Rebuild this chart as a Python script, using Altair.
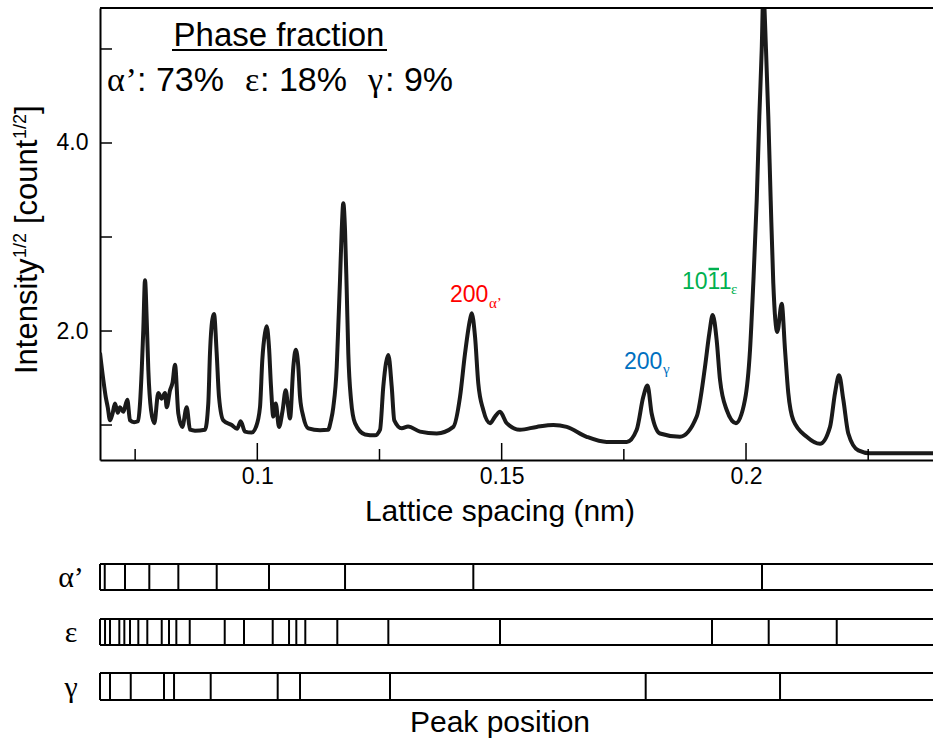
import altair as alt
import pandas as pd

# ---------------- data ----------------
d_nm = [0.06781, 0.06849, 0.06898, 0.06939, 0.06986, 0.07037, 0.07088, 0.07144, 0.07191, 0.07258,
        0.07340, 0.07395, 0.07477, 0.07559, 0.07600, 0.07635, 0.07667, 0.07702, 0.07737, 0.07770,
        0.07825, 0.07892, 0.07974, 0.08044, 0.08111, 0.08146, 0.08214, 0.08265, 0.08316, 0.08384,
        0.08465, 0.08555, 0.08623, 0.08725, 0.08930, 0.08997, 0.09032, 0.09079, 0.09114, 0.09169,
        0.09216, 0.09304, 0.09476, 0.09585, 0.09660, 0.09748, 0.09885, 0.09973, 0.10055, 0.10102,
        0.10158, 0.10192, 0.10239, 0.10280, 0.10327, 0.10377, 0.10444, 0.10516, 0.10581, 0.10628,
        0.10669, 0.10737, 0.10786, 0.10839, 0.10874, 0.10941, 0.11044, 0.11283, 0.11447, 0.11508,
        0.11555, 0.11625, 0.11657, 0.11692, 0.11727, 0.11760, 0.11795, 0.11829, 0.11862, 0.11917,
        0.11999, 0.12204, 0.12408, 0.12511, 0.12578, 0.12633, 0.12681, 0.12750, 0.12803, 0.12955,
        0.13084, 0.13329, 0.13671, 0.14011, 0.14148, 0.14250, 0.14352, 0.14387, 0.14455, 0.14522,
        0.14624, 0.14762, 0.14864, 0.14966, 0.15103, 0.15375, 0.15717, 0.16057, 0.16331, 0.16740,
        0.17149, 0.17559, 0.17763, 0.17898, 0.17984, 0.18070, 0.18240, 0.18649, 0.18991, 0.19161,
        0.19249, 0.19318, 0.19400, 0.19468, 0.19605, 0.19795, 0.19979, 0.20082, 0.20149, 0.20219,
        0.20272, 0.20321, 0.20354, 0.20409, 0.20456, 0.20505, 0.20558, 0.20640, 0.20730, 0.20798,
        0.20865, 0.20968, 0.21242, 0.21514, 0.21719, 0.21821, 0.21903, 0.21991, 0.22093, 0.22298,
        0.22537, 0.23151, 0.23826]
intensity = [1.77, 1.48, 1.30, 1.19, 1.05, 1.12, 1.23, 1.13, 1.19, 1.14,
             1.27, 1.05, 1.03, 1.04, 1.23, 1.585, 2.01, 2.54, 2.12, 1.585,
             1.16, 1.02, 1.34, 1.28, 1.34, 1.19, 1.37, 1.45, 1.64, 1.12,
             0.98, 1.19, 0.95, 0.94, 0.95, 1.23, 1.77, 2.12, 2.18, 1.76,
             1.30, 1.05, 1.00, 0.96, 1.04, 0.93, 0.92, 0.98, 1.19, 1.69,
             1.98, 2.05, 1.83, 1.41, 1.09, 1.23, 0.98, 1.15, 1.37, 1.20,
             1.07, 1.62, 1.80, 1.62, 1.30, 1.09, 0.965, 0.945, 0.95, 1.05,
             1.19, 1.62, 2.05, 2.54, 3.07, 3.36, 3.07, 2.44, 1.76, 1.27,
             1.02, 0.90, 0.89, 0.95, 1.41, 1.66, 1.745, 1.41, 1.05, 0.965,
             0.985, 0.93, 0.91, 0.98, 1.30, 1.76, 2.12, 2.19, 1.94, 1.44,
             1.16, 1.02, 1.09, 1.14, 1.02, 0.95, 0.98, 1.00, 0.98, 0.875,
             0.82, 0.82, 0.95, 1.30, 1.42, 1.12, 0.91, 0.875, 1.09, 1.62,
             1.975, 2.17, 1.90, 1.48, 1.16, 1.02, 1.27, 1.80, 2.51, 3.39,
             4.28, 4.99, 5.60, 4.99, 4.28, 3.39, 2.51, 1.99, 2.29, 1.80,
             1.34, 1.05, 0.875, 0.80, 0.98, 1.34, 1.53, 1.27, 0.91, 0.73,
             0.70, 0.70, 0.70]

alpha_peaks = [0.06878, 0.07293, 0.07790, 0.08384, 0.09169, 0.10239, 0.11795, 0.14420, 0.20327]
eps_peaks = [0.06884, 0.06986, 0.07176, 0.07279, 0.07395, 0.07565, 0.07749, 0.08044, 0.08193,
             0.08343, 0.08617, 0.09333, 0.09728, 0.10315, 0.10649, 0.10798, 0.10982, 0.11637,
             0.12681, 0.14966, 0.19304, 0.20464, 0.21856]
gamma_peaks = [0.06986, 0.07410, 0.08091, 0.08296, 0.09046, 0.10417, 0.10874, 0.12715,
               0.17947, 0.20696]

x_major = [0.1, 0.15, 0.2]
x_minor = [0.075, 0.125, 0.175, 0.225]
y_tick_vals = [1, 2, 3, 4, 5]
y_label_vals = [2.0, 4.0]
x_domain = [0.06781, 0.23826]
y_domain = [0.628, 5.436]

# ---------------- layout helpers ----------------
W, H = 833, 452
X0, Y0 = 100, 8
SANS = "Liberation Sans"
SERIF = "Liberation Serif"


def px(x):
    return x - X0


def py(y):
    return y - Y0


one = pd.DataFrame({"k": [0]})


def txt(s, x, y, size, font=SANS, color="black", align="left", baseline="alphabetic", angle=0):
    kw = dict(text=s, font=font, fontSize=size, color=color, align=align, baseline=baseline)
    if angle:
        kw["angle"] = angle
    return alt.Chart(one).mark_text(**kw).encode(x=alt.value(px(x)), y=alt.value(py(y)))


def hline(x1, x2, y, color="black", w=2):
    return alt.Chart(one).mark_rule(color=color, strokeWidth=w).encode(
        x=alt.value(px(x1)), x2=alt.value(px(x2)), y=alt.value(py(y)))


def vline(x, y1, y2, color="black", w=2):
    return alt.Chart(one).mark_rule(color=color, strokeWidth=w).encode(
        x=alt.value(px(x)), y=alt.value(py(y1)), y2=alt.value(py(y2)))


xs = alt.Scale(domain=x_domain, nice=False, zero=False)
ys = alt.Scale(domain=y_domain, nice=False, zero=False)

x_axis = alt.Axis(values=x_major, format="~g", ticks=False, grid=False, domainColor="black",
                  domainWidth=2, labelFont=SANS, labelFontSize=23, labelColor="black",
                  labelPadding=5, title=None)
y_axis = alt.Axis(values=y_label_vals, format=".1f", ticks=False, grid=False, domainColor="black",
                  domainWidth=2, labelFont=SANS, labelFontSize=23, labelColor="black",
                  labelPadding=12, title=None)

spec = pd.DataFrame({"d": d_nm, "I": intensity})

line = alt.Chart(spec).mark_line(
    clip=True, interpolate="monotone", strokeWidth=4, color="#1a1a1a"
).encode(
    x=alt.X("d:Q", scale=xs, axis=x_axis),
    y=alt.Y("I:Q", scale=ys, axis=y_axis),
)

xmaj = alt.Chart(pd.DataFrame({"v": x_major})).mark_rule(color="black", strokeWidth=1.5).encode(
    x=alt.X("v:Q", scale=xs, axis=x_axis), y=alt.value(H), y2=alt.value(H - 17))
xmin = alt.Chart(pd.DataFrame({"v": x_minor})).mark_rule(color="black", strokeWidth=1.5).encode(
    x=alt.X("v:Q", scale=xs, axis=x_axis), y=alt.value(H), y2=alt.value(H - 11))
ytk = alt.Chart(pd.DataFrame({"v": y_tick_vals})).mark_rule(color="black", strokeWidth=1.5).encode(
    y=alt.Y("v:Q", scale=ys, axis=y_axis), x=alt.value(0), x2=alt.value(12))

layers = [line, xmaj, xmin, ytk, hline(100, 933, 8)]

# peak-position strips
strips = [(alpha_peaks, 564, 590, "\u03b1\u2019"), (eps_peaks, 619, 645, "\u03b5"),
          (gamma_peaks, 673, 700, "\u03b3")]
for peaks, top, bot, lab in strips:
    layers.append(alt.Chart(pd.DataFrame({"v": peaks})).mark_rule(color="black", strokeWidth=2).encode(
        x=alt.X("v:Q", scale=xs, axis=x_axis), y=alt.value(py(top)), y2=alt.value(py(bot))))
    layers.append(hline(100, 933, top))
    layers.append(hline(100, 933, bot))
    layers.append(vline(100, top, bot))
    layers.append(txt(lab, 71, (top + bot) / 2 + 1, 30, font=SERIF, align="center", baseline="middle"))

# titles
layers.append(txt("Lattice spacing (nm)", 500, 521, 30, align="center"))
layers.append(txt("Peak position", 500, 732, 30, align="center"))

# rotated y title with superscripts
layers += [
    txt("Intensity", 37, 374, 31, angle=270),
    txt("1/2", 26, 258, 18, angle=270),
    txt("[count", 37, 224, 31, angle=270),
    txt("1/2", 26, 139, 18, angle=270),
    txt("]", 37, 114, 31, angle=270),
]

# phase fraction box
layers += [
    txt("Phase fraction", 279, 46, 33, align="center"),
    hline(172, 387, 50, w=2),
    txt("\u03b1", 107, 91, 34, font=SERIF),
    txt("\u2019", 125.5, 91, 34, font=SERIF),
    txt(": 73%", 137, 91, 34),
    txt("\u03b5", 245, 91, 34, font=SERIF),
    txt(": 18%", 260, 91, 34),
    txt("\u03b3", 368, 91, 34, font=SERIF),
    txt(": 9%", 385, 91, 34),
]

# peak annotations
RED, BLUE, GREEN = "#ff0000", "#0070c0", "#00b050"
layers += [
    txt("200", 450, 302, 23, color=RED),
    txt("\u03b1\u2019", 489, 308, 15, font=SERIF, color=RED),
    txt("200", 624, 369, 23, color=BLUE),
    txt("\u03b3", 663, 374, 15, font=SERIF, color=BLUE),
    txt("1011", 682, 289, 23, color=GREEN),
    hline(708.5, 719, 269, color=GREEN, w=2.5),
    txt("\u03b5", 731, 294, 15, font=SERIF, color=GREEN),
]

chart = alt.layer(*layers).properties(
    width=W, height=H,
    autosize=alt.AutoSizeParams(type="none"),
    padding={"left": X0, "top": Y0, "right": 933 - X0 - W, "bottom": 740 - Y0 - H},
    background="white",
).configure_view(stroke=None)

chart.save("out.html", embed_options={"renderer": "svg", "actions": False})
